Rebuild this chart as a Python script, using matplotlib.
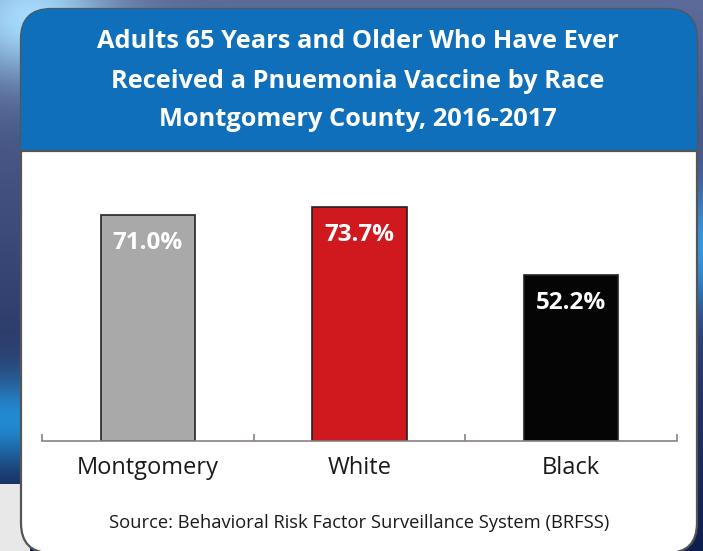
import numpy as np
import matplotlib
matplotlib.use("Agg")
import matplotlib.pyplot as plt
from matplotlib.patches import FancyBboxPatch, Rectangle

# data
groups = ["Montgomery", "White", "Black"]
pct = [71.0, 73.7, 52.2]
bar_colors = ["#a9a9a9", "#d0191f", "#050505"]
title_lines = ["Adults 65 Years and Older Who Have Ever",
               "Received a Pnuemonia Vaccine by Race",
               "Montgomery County, 2016-2017"]
source = "Source: Behavioral Risk Factor Surveillance System (BRFSS)"

W, H = 703, 551
plt.rcParams['font.family'] = ['Open Sans', 'DejaVu Sans']

fig = plt.figure(figsize=(W / 100, H / 100), dpi=100)

# background picture (dark navy with a light blue patch top left)
bg = fig.add_axes([0, 0, 1, 1])
yy, xx = np.mgrid[0:H, 0:W]
img = np.zeros((H, W, 3))
t = yy / H
img[..., 0] = 0.06 + 0.30 * (1 - t)
img[..., 1] = 0.12 + 0.30 * (1 - t)
img[..., 2] = 0.30 + 0.30 * (1 - t)
blob = np.exp(-(((xx - 30) / 80.0) ** 2 + ((yy - 20) / 60.0) ** 2))
img[..., 0] += 0.30 * blob
img[..., 1] += 0.45 * blob
img[..., 2] += 0.40 * blob
streak = np.exp(-((yy - 420) / 45.0) ** 2) * (xx < 30)
img[..., 1] += 0.35 * streak
img[..., 2] += 0.45 * streak
streak2 = np.exp(-((yy - 250) / 60.0) ** 2) * (xx > 680)
img[..., 1] += 0.3 * streak2
img[..., 2] += 0.4 * streak2
img = np.clip(img, 0, 1)
img[(yy > 483) & (xx < 30)] = [0.91, 0.91, 0.91]
bg.imshow(img, extent=[0, W, H, 0], aspect='auto')
bg.set_xlim(0, W)
bg.set_ylim(H, 0)
bg.axis('off')

# panel
panel = FancyBboxPatch((21, 9), 676, 544, boxstyle="round,pad=0,rounding_size=30",
                       facecolor="white", edgecolor="#555555", lw=1.6, zorder=2)
bg.add_patch(panel)
head = Rectangle((21, 9), 676, 142, facecolor="#0f6fba", edgecolor="none", zorder=3)
bg.add_patch(head)
head.set_clip_path(panel)
bg.plot([21, 697], [151, 151], color="#555555", lw=1.6, zorder=4)

for i, line in enumerate(title_lines):
    bg.text(358, 42 + 39 * i, line, ha='center', va='center', color='white',
            fontsize=18.3, fontweight='bold', zorder=5)

# bar chart
ymax = 80
px_per = 3.18
ax_h = ymax * px_per
ax = fig.add_axes([42 / W, (H - 441) / H, (677 - 42) / W, ax_h / H])
ax.set_zorder(3)
ax.patch.set_alpha(0)
x = np.arange(len(groups))
bars = ax.bar(x, pct, width=0.445, color=bar_colors, edgecolor="#222222", lw=1.2)
for b, v in zip(bars, pct):
    ax.annotate(f"{v:.1f}%", (b.get_x() + b.get_width() / 2, v),
                xytext=(0, -28), textcoords='offset pixels', ha='center', va='center',
                color='white', fontsize=17.5, fontweight='bold')
ax.set_xlim(-0.5, 2.5)
ax.set_ylim(0, ymax)
for s in ['top', 'right', 'left']:
    ax.spines[s].set_visible(False)
ax.spines['bottom'].set_color("#8a8080")
ax.spines['bottom'].set_linewidth(1.2)
ax.set_yticks([])
ax.set_xticks([-0.5, 0.5, 1.5, 2.5])
ax.set_xticklabels([])
ax.tick_params(axis='x', length=5, color="#8a8080", direction='in', width=1.2)

for i, g in enumerate(groups):
    bg.text(42 + (i + 0.5) * (677 - 42) / 3, 468, g, ha='center', va='center',
            fontsize=17, color='#1a1a1a', zorder=5)

bg.text(359, 523, source, ha='center', va='center', fontsize=13.2, color='#1a1a1a', zorder=5)

fig.savefig("out.png", dpi=100)
